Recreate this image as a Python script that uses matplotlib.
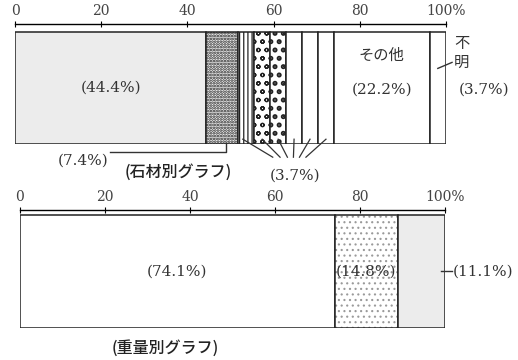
import matplotlib
matplotlib.use("Agg")
import matplotlib.pyplot as plt

# ---- data ----
stone_values = [44.4, 7.4, 3.7, 3.7, 3.7, 3.7, 3.7, 3.7, 22.2, 3.7]
stone_hatches = ["", "......", "||||", "oo", "..", "", "", "", "", ""]
stone_faces = ["#ececec", "#f2f2f2", "white", "white", "white", "white", "white", "white", "white", "white"]
weight_values = [74.1, 14.8, 11.1]
weight_faces = ["white", "white", "#ececec"]
weight_hatches = ["", "...", ""]
tick_values = [0, 20, 40, 60, 80, 100]
tick_labels = ["0", "20", "40", "60", "80", "100%"]

SERIF = ["DejaVu Serif", "Noto Sans CJK JP"]
JP = ["Noto Sans CJK JP", "DejaVu Sans"]
TXT = "#333333"

fig = plt.figure(figsize=(5.18, 3.6), dpi=100)
fig.patch.set_facecolor("white")

def style_axis(ax):
    ax.set_xlim(0, 100)
    ax.set_ylim(0, 1)
    for s in ["left", "right", "bottom"]:
        ax.spines[s].set_visible(False)
    ax.spines["top"].set_linewidth(1.0)
    ax.xaxis.tick_top()
    ax.set_xticks(tick_values)
    ax.set_xticklabels(tick_labels, fontsize=10, family=SERIF, color="#444444")
    ax.tick_params(axis="x", direction="inout", length=4, width=0.8, pad=2)
    ax.set_yticks([])
    ax.patch.set_alpha(0)

def hatch_lw(container, lw):
    for p in container:
        if hasattr(p, "set_hatch_linewidth"):
            p.set_hatch_linewidth(lw)

# ---------- top: stone material ----------
ax1 = fig.add_axes([15/518, 1-144/360, 431/518, 120/360])
style_axis(ax1)
bar_h1 = 112/120
left = 0
for v, h, fc in zip(stone_values, stone_hatches, stone_faces):
    lw_h = 2.4 if h == ".." else (1.3 if h.startswith("....") else 0.9)
    with plt.rc_context({"hatch.linewidth": lw_h}):
        b = ax1.barh(0, v, left=left, height=bar_h1, align="edge", color=fc,
                     edgecolor="#222222", linewidth=1.1, hatch=h)
    hatch_lw(b, lw_h)
    left += v

ax1.text(stone_values[0]/2, 0.47, "(44.4%)", ha="center", va="center", fontsize=11, family=SERIF, color=TXT)
c_other = sum(stone_values[:8]) + stone_values[8]/2
ax1.text(c_other, 0.74, "その他", ha="center", va="center", fontsize=11, family=JP, color=TXT)
ax1.text(c_other, 0.45, "(22.2%)", ha="center", va="center", fontsize=11, family=SERIF, color=TXT)
ax1.text(103.6, 0.84, "不", ha="center", va="center", fontsize=11, family=JP, color=TXT, clip_on=False)
ax1.text(103.6, 0.68, "明", ha="center", va="center", fontsize=11, family=JP, color=TXT, clip_on=False)
ax1.plot([98.1, 101.4], [0.63, 0.68], color=TXT, lw=1.0, clip_on=False)
ax1.text(108.8, 0.45, "(3.7%)", ha="center", va="center", fontsize=11, family=SERIF, color=TXT, clip_on=False)

# (7.4%) leader
x74 = stone_values[0] + stone_values[1] * 0.63
ax1.plot([22.0, x74, x74], [-0.067, -0.067, 0.01], color=TXT, lw=1.0, clip_on=False)
ax1.text(15.8, -0.135, "(7.4%)", ha="center", va="center", fontsize=11, family=SERIF, color=TXT, clip_on=False)
ax1.text(37.8, -0.235, "(石材別グラフ)", ha="center", va="center", fontsize=11.5, family=JP,
         fontweight="medium", color="#222222", clip_on=False)

# (3.7%) leaders
start = stone_values[0] + stone_values[1]
ends = [59.8, 61.5, 63.2, 64.6, 66.0, 67.5]
for i in range(6):
    cx = start + stone_values[2 + i] * (i + 0.5)
    ax1.plot([cx - 0.8 if i == 0 else cx, ends[i]], [0.04, -0.11], color=TXT, lw=0.9, clip_on=False)
ax1.text(65.0, -0.26, "(3.7%)", ha="center", va="center", fontsize=11, family=SERIF, color=TXT, clip_on=False)

# ---------- bottom: weight ----------
ax2 = fig.add_axes([20/518, 1-328/360, 425/518, 118/360])
style_axis(ax2)
bar_h2 = 113/118
left = 0
for v, h, fc in zip(weight_values, weight_hatches, weight_faces):
    if h:
        with plt.rc_context({"hatch.linewidth": 0.8}):
            b = ax2.barh(0, v, left=left, height=bar_h2, align="edge", color=fc,
                         edgecolor="#9a9a9a", linewidth=0, hatch=h)
        hatch_lw(b, 0.8)
        ax2.barh(0, v, left=left, height=bar_h2, align="edge", color="none",
                 edgecolor="#222222", linewidth=1.1)
    else:
        ax2.barh(0, v, left=left, height=bar_h2, align="edge", color=fc,
                 edgecolor="#222222", linewidth=1.1)
    left += v

ax2.text(weight_values[0]/2, 0.48, "(74.1%)", ha="center", va="center", fontsize=11, family=SERIF, color=TXT)
ax2.text(weight_values[0] + weight_values[1]/2, 0.48, "(14.8%)", ha="center", va="center", fontsize=11,
         family=SERIF, color=TXT, clip_on=False)
ax2.plot([99.1, 101.6], [0.48, 0.48], color=TXT, lw=1.0, clip_on=False)
ax2.text(101.8, 0.48, "(11.1%)", ha="left", va="center", fontsize=11, family=SERIF, color=TXT, clip_on=False)
ax2.text(34.1, -0.17, "(重量別グラフ)", ha="center", va="center", fontsize=11.5, family=JP,
         fontweight="medium", color="#222222", clip_on=False)

fig.savefig("out.png", dpi=100, facecolor="white")
